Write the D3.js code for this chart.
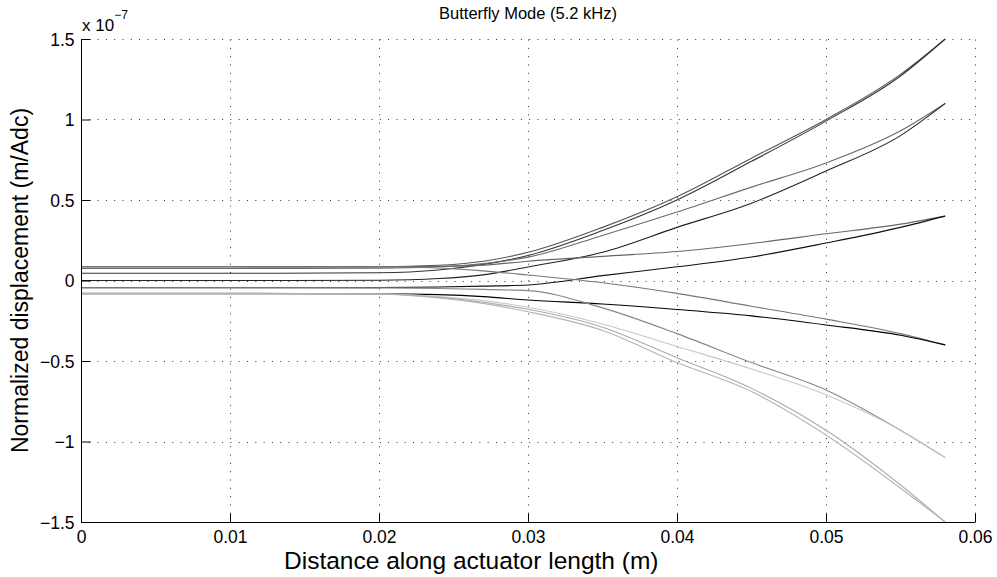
<!DOCTYPE html>
<html>
<head>
<meta charset="utf-8">
<script src="https://cdn.jsdelivr.net/npm/d3@7"></script>
<style>
  body { margin: 0; background: #fff; }
  text { font-family: "Liberation Sans", Arial, Helvetica, sans-serif; }
</style>
</head>
<body>
<svg width="997" height="577"></svg>
<script>
// positions along the actuator (m)
const xs = [0, 0.01, 0.02, 0.024, 0.027, 0.03, 0.035, 0.04, 0.045, 0.05, 0.055, 0.058];

// displacement curves (x 1e-7 m/Adc), one array per trace
const lineA1 = [0.085, 0.085, 0.087, 0.095, 0.12, 0.175, 0.33, 0.52, 0.76, 1.0, 1.28, 1.5];
const lineA2 = [0.045, 0.045, 0.048, 0.065, 0.1, 0.155, 0.31, 0.5, 0.74, 0.99, 1.27, 1.5];
const lineB1 = [0.075, 0.075, 0.077, 0.085, 0.105, 0.145, 0.28, 0.425, 0.58, 0.73, 0.93, 1.1];
const lineB2 = [0.0, 0.0, 0.002, 0.012, 0.035, 0.084, 0.175, 0.33, 0.48, 0.68, 0.9, 1.1];
const lineC1 = [0.085, 0.085, 0.086, 0.088, 0.095, 0.12, 0.15, 0.18, 0.23, 0.29, 0.35, 0.4];
const lineC2 = [-0.045, -0.045, -0.044, -0.04, -0.035, -0.028, 0.03, 0.085, 0.146, 0.233, 0.33, 0.4];
const lineD1 = [0.085, 0.085, 0.084, 0.078, 0.06, 0.034, -0.014, -0.08, -0.16, -0.24, -0.33, -0.4];
const lineD2 = [-0.082, -0.082, -0.083, -0.088, -0.1, -0.121, -0.146, -0.18, -0.22, -0.276, -0.34, -0.4];
const lineE1 = [-0.045, -0.045, -0.046, -0.05, -0.055, -0.063, -0.17, -0.33, -0.51, -0.68, -0.93, -1.1];
const lineE2 = [-0.08, -0.08, -0.083, -0.1, -0.125, -0.166, -0.27, -0.41, -0.55, -0.71, -0.93, -1.1];
const lineF1 = [-0.08, -0.08, -0.084, -0.105, -0.135, -0.179, -0.29, -0.48, -0.67, -0.93, -1.27, -1.5];
const lineF2 = [-0.08, -0.08, -0.085, -0.108, -0.142, -0.194, -0.31, -0.51, -0.69, -0.96, -1.29, -1.5];

const seriesNames = ["A1", "A2", "B1", "B2", "C1", "C2", "D1", "D2", "E1", "E2", "F1", "F2"];
const seriesValues = [lineA1, lineA2, lineB1, lineB2, lineC1, lineC2, lineD1, lineD2, lineE1, lineE2, lineF1, lineF2];
const seriesColors = ["#555", "#333", "#6a6a6a", "#222", "#666", "#111", "#777", "#000", "#888", "#c8c8c8", "#aaa", "#b4b4b4"];

const xTicks = [0, 0.01, 0.02, 0.03, 0.04, 0.05, 0.06];
const yTicks = [-1.5, -1, -0.5, 0, 0.5, 1, 1.5];

// plot area
const plotLeft = 81, plotRight = 975, plotTop = 39, plotBottom = 522;

const svg = d3.select("svg");

const x = d3.scaleLinear().domain([0, 0.06]).range([plotLeft, plotRight]);
const y = d3.scaleLinear().domain([-1.5, 1.5]).range([plotBottom, plotTop]);

// dotted grid (also stands in for the top and right edges)
const grid = svg.append("g")
  .attr("stroke", "#333")
  .attr("stroke-width", 1)
  .attr("stroke-dasharray", "1,7.3");

grid.selectAll("line.v")
  .data(xTicks)
  .join("line")
  .attr("class", "v")
  .attr("x1", d => Math.round(x(d)) + 0.5)
  .attr("x2", d => Math.round(x(d)) + 0.5)
  .attr("y1", plotBottom)
  .attr("y2", plotTop);

grid.selectAll("line.h")
  .data(yTicks)
  .join("line")
  .attr("class", "h")
  .attr("x1", plotLeft)
  .attr("x2", plotRight)
  .attr("y1", d => Math.round(y(d)) + 0.5)
  .attr("y2", d => Math.round(y(d)) + 0.5);

// curves
const line = d3.line()
  .x((d, i) => x(xs[i]))
  .y(d => y(d))
  .curve(d3.curveMonotoneX);

svg.append("g")
  .selectAll("path")
  .data(seriesValues)
  .join("path")
  .attr("fill", "none")
  .attr("stroke", (d, i) => seriesColors[i])
  .attr("stroke-width", 1.1)
  .attr("d", line)
  .append("title")
  .text((d, i) => seriesNames[i]);

// axes, ticks pointing inward like MATLAB
const xAxis = d3.axisBottom(x)
  .tickValues(xTicks)
  .tickSize(-9)
  .tickFormat(d => d === 0 ? "0" : d3.format(".2f")(d));

const yAxis = d3.axisLeft(y)
  .tickValues(yTicks)
  .tickSize(-9)
  .tickFormat(d => d3.format("")(d).replace("-", "\u2212"));

const gx = svg.append("g")
  .attr("transform", `translate(0,${plotBottom + 0.5})`)
  .call(xAxis);
gx.select(".domain").attr("d", `M${plotLeft},0H${plotRight}`);

const gy = svg.append("g")
  .attr("transform", `translate(${plotLeft + 0.5},0)`)
  .call(yAxis);
gy.select(".domain").attr("d", `M0,${plotBottom}V${plotTop}`);

[gx, gy].forEach(g => {
  g.selectAll(".domain").attr("stroke", "#000");
  g.selectAll(".tick line").attr("stroke", "#000");
  g.selectAll(".tick text")
    .attr("fill", "#000")
    .style("font-size", "17.5px");
});
gy.selectAll(".tick text").attr("dy", "0.35em").attr("x", -7);
gx.selectAll(".tick text").attr("dy", "0.71em").attr("y", 8);

// exponent label
const expo = svg.append("text")
  .attr("x", plotLeft + 1)
  .attr("y", 31)
  .style("font-size", "17px");
expo.append("tspan").text("x 10");
expo.append("tspan")
  .attr("dy", -12)
  .style("font-size", "12px")
  .text("\u22127");

// title and axis labels
svg.append("text")
  .attr("x", (plotLeft + plotRight) / 2)
  .attr("y", 19)
  .attr("text-anchor", "middle")
  .style("font-size", "16.5px")
  .text("Butterfly Mode (5.2 kHz)");

svg.append("text")
  .attr("x", 284)
  .attr("y", 569)
  .style("font-size", "24.5px")
  .text("Distance along actuator length (m)");

svg.append("text")
  .attr("transform", `translate(28,${(plotTop + plotBottom) / 2}) rotate(-90)`)
  .attr("text-anchor", "middle")
  .style("font-size", "23px")
  .text("Normalized displacement (m/Adc)");
</script>
</body>
</html>
